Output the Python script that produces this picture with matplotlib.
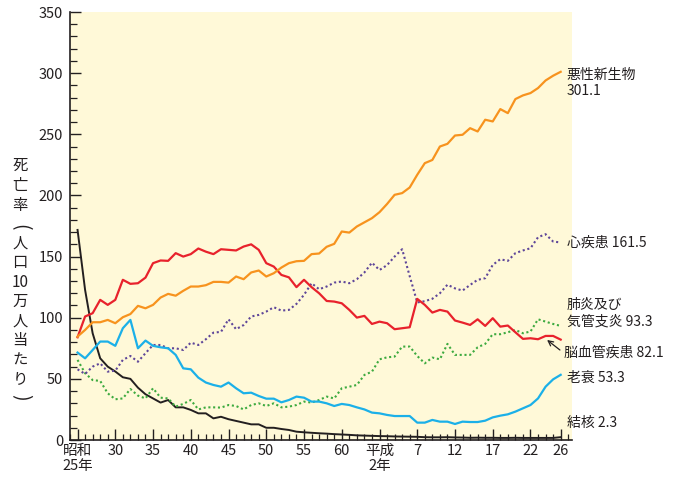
import numpy as np
import matplotlib
matplotlib.use("Agg")
import matplotlib.pyplot as plt
from matplotlib.ticker import MultipleLocator

plt.rcParams['font.family'] = ['Noto Sans CJK JP', 'DejaVu Sans']

years = np.arange(1950, 2015)

malignant = [84.6, 90.0, 96.3, 96.3, 98.2, 95.5, 100.4, 103.0, 109.7, 107.7,
             110.5, 116.5, 119.5, 118.0, 122.0, 125.5, 125.5, 126.6, 129.3, 129.3,
             128.7, 133.7, 131.5, 137.0, 138.6, 133.7, 136.4, 141.0, 144.6, 146.2,
             146.5, 152.0, 152.5, 158.0, 160.4, 170.5, 169.6, 174.6, 178.0, 181.4,
             186.3, 193.0, 200.5, 201.9, 206.5, 216.9, 226.4, 229.0, 240.0, 242.2,
             249.0, 249.6, 255.0, 252.3, 261.9, 260.5, 270.6, 267.3, 278.8, 281.8,
             283.7, 287.8, 294.0, 297.9, 301.1]

heart = [57.8, 54.0, 60.0, 62.7, 55.9, 56.7, 65.5, 68.7, 64.0, 71.0,
         77.7, 77.7, 75.0, 75.0, 73.6, 79.6, 77.7, 82.4, 87.8, 88.4,
         98.7, 90.6, 94.0, 101.0, 102.3, 105.0, 108.6, 105.8, 106.4, 111.3,
         118.7, 128.2, 123.3, 125.5, 128.7, 129.6, 128.2, 131.5, 137.0, 145.0,
         139.0, 143.0, 150.0, 156.0, 134.0, 112.5, 113.5, 115.5, 120.0, 127.0,
         124.0, 122.2, 126.8, 131.0, 132.3, 143.2, 147.8, 146.5, 152.8, 155.0,
         156.8, 165.8, 168.3, 162.3, 161.5]

cerebro = [84.0, 101.0, 103.7, 114.6, 110.5, 114.6, 131.0, 127.7, 128.2, 132.8,
           144.6, 146.8, 146.5, 152.8, 150.0, 152.0, 156.6, 154.0, 152.0, 156.0,
           155.5, 155.0, 158.2, 160.0, 155.5, 144.6, 141.8, 135.0, 133.0, 125.0,
           131.0, 125.0, 120.0, 113.7, 113.2, 111.8, 106.4, 100.1, 101.5, 94.9,
           96.8, 95.5, 90.6, 91.4, 92.2, 115.4, 110.5, 104.2, 106.4, 105.0,
           97.7, 96.0, 94.1, 98.7, 93.3, 99.6, 92.7, 93.6, 88.1, 82.7,
           83.2, 82.4, 85.1, 85.1, 82.1]

pneumonia = [65.5, 54.6, 49.0, 48.3, 38.2, 33.3, 34.0, 41.7, 36.3, 34.0,
             42.3, 34.6, 34.0, 27.3, 29.5, 32.7, 25.0, 26.7, 26.7, 26.5,
             28.6, 27.8, 25.0, 28.6, 30.0, 27.8, 30.0, 26.7, 27.3, 28.6,
             31.4, 30.6, 32.7, 35.5, 34.0, 42.3, 43.6, 45.0, 53.2, 55.9,
             66.0, 67.6, 68.2, 76.4, 76.4, 68.7, 62.7, 67.4, 66.0, 78.6,
             69.6, 69.6, 69.6, 75.8, 78.6, 86.5, 86.5, 88.1, 90.0, 87.3,
             88.7, 98.7, 96.8, 94.9, 93.3]

senility = [71.5, 66.8, 73.6, 80.5, 80.5, 77.0, 91.4, 98.2, 75.0, 81.3,
            77.0, 75.8, 75.0, 69.6, 58.6, 57.8, 51.0, 47.0, 45.0, 43.6,
            47.0, 42.3, 38.2, 38.7, 36.0, 33.8, 33.8, 30.8, 32.7, 35.5,
            34.6, 31.4, 31.4, 30.0, 27.8, 29.5, 28.6, 26.7, 25.0, 22.4,
            21.8, 20.5, 19.6, 19.6, 19.6, 14.2, 14.2, 16.4, 15.0, 15.0,
            13.1, 15.0, 14.7, 14.7, 15.8, 18.5, 19.9, 21.0, 23.2, 25.9,
            28.6, 34.0, 43.6, 49.6, 53.3]

tuberculosis = [171.8, 122.7, 87.3, 66.8, 60.0, 56.0, 51.3, 50.0, 42.8, 37.4,
                34.0, 30.6, 32.7, 26.7, 26.7, 24.6, 21.8, 21.8, 17.7, 19.0,
                17.0, 15.6, 14.2, 12.8, 12.8, 10.0, 10.0, 9.0, 8.2, 6.8,
                6.3, 5.9, 5.5, 5.2, 4.8, 4.5, 4.2, 3.8, 3.6, 3.4,
                3.2, 3.1, 2.9, 2.8, 2.7, 2.6, 2.3, 2.2, 2.2, 2.3,
                2.1, 2.0, 1.8, 1.9, 1.8, 1.8, 1.7, 1.7, 1.8, 1.7,
                1.7, 1.7, 1.7, 1.7, 2.3]

tick_years = [1950, 1955, 1960, 1965, 1970, 1975, 1980, 1985, 1990, 1995, 2000, 2005, 2010, 2014]
tick_labels = ["昭和\n25年", "30", "35", "40", "45", "50", "55", "60", "平成\n2年",
               "7", "12", "17", "22", "26"]

series_labels = {
    "malignant": "悪性新生物\n301.1",
    "heart": "心疾患 161.5",
    "pneumonia": "肺炎及び\n気管支炎 93.3",
    "cerebro": "脳血管疾患 82.1",
    "senility": "老衰 53.3",
    "tb": "結核 2.3",
}
ylabel_chars = ["死", "亡", "率", "(", "人", "口", "10", "万", "人", "当", "た", "り", ")"]

W, H = 680, 486
fig = plt.figure(figsize=(W / 100, H / 100), dpi=100)
ax = fig.add_axes([70 / W, 1 - 440 / H, (572 - 70) / W, (440 - 12) / H])
ax.set_facecolor('#FFF9D8')

c_orange = '#F7931E'
c_red = '#E8222C'
c_cyan = '#1BB0E8'
c_purple = '#5E4699'
c_green = '#3DAA3F'
c_black = '#231F20'

ax.plot(years, tuberculosis, color=c_black, lw=1.4, zorder=3)
ax.plot(years, pneumonia, color=c_green, lw=1.5, ls=(0, (1, 1.3)), zorder=3)
ax.plot(years, heart, color=c_purple, lw=1.5, ls=(0, (1, 1.3)), zorder=3)
ax.plot(years, senility, color=c_cyan, lw=1.6, zorder=4)
ax.plot(years, cerebro, color=c_red, lw=1.6, zorder=4)
ax.plot(years, malignant, color=c_orange, lw=1.6, zorder=5)

ax.set_xlim(1949, 2015.5)
ax.set_ylim(0, 350)

for s in ['top', 'right']:
    ax.spines[s].set_visible(False)
for s in ['left', 'bottom']:
    ax.spines[s].set_linewidth(1.2)
    ax.spines[s].set_color(c_black)

ax.set_xticks(tick_years)
ax.set_xticklabels(tick_labels, fontsize=10.5, linespacing=1.1)
ax.xaxis.set_minor_locator(MultipleLocator(1))
ax.set_yticks(np.arange(0, 351, 50))
ax.yaxis.set_minor_locator(MultipleLocator(10))
ax.tick_params(axis='x', which='major', direction='in', length=8, width=1, pad=3, colors=c_black)
ax.tick_params(axis='x', which='minor', direction='in', length=4.5, width=0.9, colors=c_black)
ax.tick_params(axis='y', which='major', direction='in', length=8, width=1, pad=5, labelsize=10.5, colors=c_black)
ax.tick_params(axis='y', which='minor', direction='in', length=5, width=0.9, colors=c_black)

# series labels at right
def lab(txt, y, x=2014.8, ls=1.25):
    ax.text(x, y, txt, fontsize=10, color=c_black, va='center', ha='left',
            linespacing=ls, clip_on=False, zorder=6)

lab(series_labels["malignant"], malignant[-1] - 9)
lab(series_labels["heart"], heart[-1])
lab(series_labels["pneumonia"], pneumonia[-1] + 10.5)
lab(series_labels["cerebro"], cerebro[-1] - 10.7, x=2014.4)
lab(series_labels["senility"], senility[-1] - 2.8)
lab(series_labels["tb"], tuberculosis[-1] + 11.6)

ax.annotate('', xy=(years[-3] + 0.2, cerebro[-3] - 3.3), xytext=(years[-1] - 0.1, cerebro[-1] - 8.5),
            arrowprops=dict(arrowstyle='->', lw=0.9, color=c_black, mutation_scale=9,
                            shrinkA=0, shrinkB=0), annotation_clip=False)

# vertical y-axis label (parentheses rotated to vertical form)
ypos = [165, 185, 205, 227, 243, 262, 282, 301, 321, 341, 360, 379, 397]
for ch, yp in zip(ylabel_chars, ypos):
    paren = ch in "()"
    fig.text(20 / W, 1 - yp / H, ch, fontsize=14 if paren else 11, ha='center', va='center',
             color=c_black, rotation=-90 if paren else 0, rotation_mode='default')

fig.savefig('out.png', dpi=100)
